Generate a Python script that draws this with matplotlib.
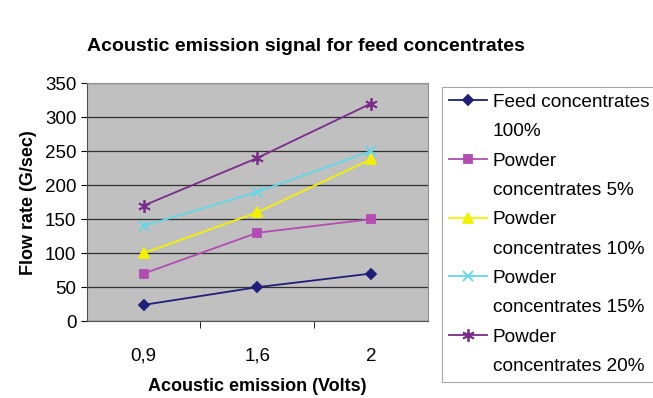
import matplotlib.pyplot as plt
from matplotlib.lines import Line2D
import numpy as np

plt.rcParams['font.family'] = ['Liberation Sans', 'DejaVu Sans']

categories = ["0,9", "1,6", "2"]
feed_100 = [24, 50, 70]
powder_5 = [70, 130, 150]
powder_10 = [100, 160, 238]
powder_15 = [140, 190, 250]
powder_20 = [170, 240, 320]

series = [
    ("Feed concentrates\n100%", feed_100, "#1f1f7a", "D", 5.5),
    ("Powder\nconcentrates 5%", powder_5, "#b24cb2", "s", 6),
    ("Powder\nconcentrates 10%", powder_10, "#f2f200", "^", 7),
    ("Powder\nconcentrates 15%", powder_15, "#5fd8e8", "x", 7),
    ("Powder\nconcentrates 20%", powder_20, "#7a2c8a", (6, 2, 0), 9),
]

fig = plt.figure(figsize=(6.53, 3.98), dpi=100)
ax = fig.add_axes([0.133, 0.193, 0.522, 0.598])
ax.set_facecolor("#c0c0c0")

x = np.arange(len(categories))
handles, labels = [], []
for label, vals, color, marker, ms in series:
    line, = ax.plot(x, vals, color=color, marker=marker, markersize=ms,
                    linewidth=1.3, markeredgewidth=1.3)
    # legend: handle beside the first line of the label only
    first, second = label.split("\n")
    handles += [line, Line2D([], [], linestyle="none")]
    labels += [first, second]

ax.set_xlim(-0.5, 2.5)
ax.set_ylim(0, 350)
ax.set_yticks(np.arange(0, 351, 50))
ax.set_xticks(x)
ax.set_xticklabels(categories)
ax.set_xticks([0.5, 1.5], minor=True)
ax.tick_params(axis="x", which="major", length=0, pad=19, labelsize=13.5)
ax.tick_params(axis="x", which="minor", length=5)
ax.tick_params(axis="y", labelsize=13.5, length=4)
ax.yaxis.grid(True, color="#303030", linewidth=0.9)
ax.set_axisbelow(True)
for side in ["top", "right"]:
    ax.spines[side].set_color("#909090")
ax.spines["left"].set_color("#505050")
ax.spines["bottom"].set_color("#505050")

ax.set_xlabel("Acoustic emission (Volts)", fontsize=13, fontweight="bold", labelpad=10)
ax.set_ylabel("Flow rate (G/sec)", fontsize=13, fontweight="bold", labelpad=6)
fig.text(0.469, 0.884, "Acoustic emission signal for feed concentrates",
         ha="center", va="center", fontsize=14, fontweight="bold")

leg = fig.legend(handles, labels, loc="upper left", bbox_to_anchor=(0.677, 0.781),
                 fontsize=13.7, frameon=True, fancybox=False, edgecolor="#909090",
                 handlelength=2.0, handletextpad=0.3, labelspacing=0.63,
                 borderpad=0.35, borderaxespad=0)
leg.get_frame().set_linewidth(0.8)

fig.savefig("out.png", dpi=100)
